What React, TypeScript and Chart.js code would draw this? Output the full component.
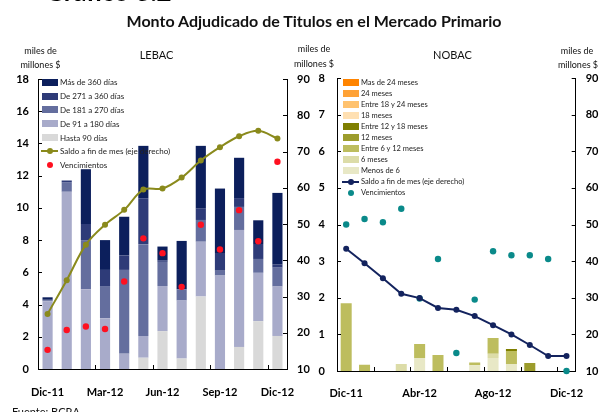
import React, { useEffect, useRef } from 'react';
import { Chart, registerables } from 'chart.js';
Chart.register(...registerables);

const FONT = 'Lato, "DejaVu Sans", sans-serif';
Chart.defaults.font.family = FONT;

// ---------- DATA ----------
const categories = ['Dic-11', 'Ene-12', 'Feb-12', 'Mar-12', 'Abr-12', 'May-12', 'Jun-12', 'Jul-12', 'Ago-12', 'Sep-12', 'Oct-12', 'Nov-12', 'Dic-12'];

// LEBAC (miles de millones $)
const lebacHasta90 = [0, 0, 0, 0, 0, 0.7, 2.35, 0.65, 4.5, 0, 1.37, 2.97, 2.05];
const lebac91a180 = [4.2, 11.0, 4.95, 3.15, 0.95, 1.35, 2.8, 3.6, 3.4, 5.8, 7.26, 3.0, 3.07];
const lebac181a270 = [0.05, 0.6, 3.05, 2.0, 5.2, 5.7, 1.5, 0.7, 1.35, 0.3, 1.43, 0.86, 1.17];
const lebac271a360 = [0.05, 0.1, 1.0, 1.0, 0.9, 2.85, 0.1, 0, 0.7, 1.1, 0.55, 0.93, 0.19];
const lebacMas360 = [0.15, 0, 3.4, 1.85, 2.4, 3.25, 0.85, 3.0, 3.9, 4.0, 2.5, 1.47, 4.45];
const lebacSaldo = [25.2, 34.5, 44.3, 49.8, 53.9, 59.5, 59.8, 62.8, 67.5, 71.2, 74.2, 75.7, 73.6];
const lebacVenc = [1.19, 2.42, 2.64, 2.48, 5.43, 8.11, 7.19, 5.1, 8.95, 7.42, 9.86, 7.93, 12.86];

// NOBAC (miles de millones $)
const nobacMenos6 = [0, 0, 0, 0, 0.355, 0, 0, 0.16, 0.355, 0.19, 0, 0, 0];
const nobac6m = [0, 0, 0, 0.19, 0, 0, 0, 0, 0.115, 0, 0, 0, 0];
const nobac6a12 = [1.85, 0.17, 0, 0, 0.385, 0.44, 0, 0.07, 0.43, 0.355, 0, 0, 0];
const nobac12m = [0, 0, 0, 0, 0, 0, 0, 0, 0, 0, 0.22, 0, 0];
const nobac12a18 = [0, 0, 0, 0, 0, 0, 0, 0, 0, 0.055, 0, 0, 0];
const nobac18m = [0, 0, 0, 0, 0, 0, 0, 0, 0, 0, 0, 0, 0];
const nobac18a24 = [0, 0, 0, 0, 0, 0, 0, 0, 0, 0, 0, 0, 0];
const nobac24m = [0, 0, 0, 0, 0, 0, 0, 0, 0, 0, 0, 0, 0];
const nobacMas24 = [0, 0, 0, 0, 0, 0, 0, 0, 0, 0, 0, 0, 0];
const nobacSaldo = [43.4, 39.4, 35.3, 31.1, 29.9, 27.2, 26.7, 25.0, 22.5, 20.0, 17.1, 14.1, 14.1];
const nobacVenc = [4.0, 4.15, 4.06, 4.43, 1.98, 3.06, 0.49, 1.95, 3.27, 3.16, 3.16, 3.06, 0];

// ---------- STYLES ----------
const lebacBars = [
  { label: 'Hasta 90 días', data: lebacHasta90, color: '#D9D9D9' },
  { label: 'De 91 a 180 días', data: lebac91a180, color: '#A8ABCA' },
  { label: 'De 181 a 270 días', data: lebac181a270, color: '#646E9E' },
  { label: 'De 271 a 360 días', data: lebac271a360, color: '#2E3B78' },
  { label: 'Más de 360 días', data: lebacMas360, color: '#0C1F5C' },
];
const LEBAC_LINE = { label: 'Saldo a fin de mes (eje derecho)', color: '#8A8A1C' };
const LEBAC_DOTS = { label: 'Vencimientos', color: '#FF1020' };

const nobacBars = [
  { label: 'Menos de 6', data: nobacMenos6, color: '#E8E8C6' },
  { label: '6 meses', data: nobac6m, color: '#DCDCA8' },
  { label: 'Entre 6 y 12 meses', data: nobac6a12, color: '#BDBD5E' },
  { label: '12 meses', data: nobac12m, color: '#9C9C2C' },
  { label: 'Entre 12 y 18 meses', data: nobac12a18, color: '#7F7F00' },
  { label: '18 meses', data: nobac18m, color: '#FFE0B2' },
  { label: 'Entre 18 y 24 meses', data: nobac18a24, color: '#FFC26E' },
  { label: '24 meses', data: nobac24m, color: '#FFA236' },
  { label: 'Mas de 24 meses', data: nobacMas24, color: '#FF8400' },
];
const NOBAC_LINE = { label: 'Saldo a fin de mes  (eje derecho)', color: '#13235E' };
const NOBAC_DOTS = { label: 'Vencimientos', color: '#0A8A8A' };

const inwardTicks = {
  id: 'inwardTicks',
  afterDraw(chart: any, _args: any, opts: any) {
    const ctx = chart.ctx;
    const { left, right, bottom } = chart.chartArea;
    ctx.save();
    ctx.strokeStyle = '#000';
    ctx.lineWidth = 1;
    ctx.beginPath();
    const ys = chart.scales.y;
    const y1 = chart.scales.y1;
    ys.ticks.forEach((t: any) => {
      const p = Math.round(ys.getPixelForValue(t.value)) + 0.5;
      ctx.moveTo(left, p);
      ctx.lineTo(left + 4, p);
    });
    y1.ticks.forEach((t: any) => {
      const p = Math.round(y1.getPixelForValue(t.value)) + 0.5;
      ctx.moveTo(right, p);
      ctx.lineTo(right - 4, p);
    });
    const xs = chart.scales.x;
    (opts.after || []).forEach((i: number) => {
      const p = Math.round((xs.getPixelForValue(i) + xs.getPixelForValue(i + 1)) / 2) + 0.5;
      ctx.moveTo(p, bottom);
      ctx.lineTo(p, bottom - 4);
    });
    ctx.stroke();
    ctx.restore();
  },
};

function makeConfig(p: any) {
  const tickFont = { family: FONT, size: 11, weight: 'bold' as const };
  const noGrid = { display: false, drawTicks: false };
  return {
    type: 'bar' as const,
    data: {
      labels: categories,
      datasets: [
        {
          type: 'line' as const,
          label: p.line.label,
          data: p.saldo,
          yAxisID: 'y1',
          borderColor: p.line.color,
          backgroundColor: p.line.color,
          pointBackgroundColor: p.line.color,
          pointBorderWidth: 0,
          pointRadius: 3,
          borderWidth: 2,
          tension: p.tension,
          order: 0,
          clip: false,
        },
        {
          type: 'line' as const,
          label: p.dots.label,
          data: p.venc,
          yAxisID: 'y',
          showLine: false,
          pointBackgroundColor: p.dots.color,
          backgroundColor: p.dots.color,
          borderColor: p.dots.color,
          pointBorderWidth: 0,
          pointRadius: 3.2,
          order: 0,
          clip: false,
        },
        ...p.bars.map((b: any) => ({
          type: 'bar' as const,
          label: b.label,
          data: b.data,
          backgroundColor: b.color,
          borderWidth: 0,
          yAxisID: 'y',
          stack: 's',
          categoryPercentage: 1,
          barPercentage: p.barPct,
          order: 1,
        })),
      ],
    },
    options: {
      animation: false as const,
      responsive: false,
      devicePixelRatio: 1,
      layout: { padding: p.padding },
      plugins: {
        legend: { display: false },
        tooltip: { enabled: false },
        inwardTicks: { after: p.xTicksAfter },
      },
      scales: {
        x: {
          stacked: true,
          grid: noGrid,
          border: { display: true, color: '#000', width: 1 },
          ticks: {
            autoSkip: false,
            maxRotation: 0,
            color: '#000',
            font: tickFont,
            padding: p.xPad,
            callback: (_v: any, i: number) => (i % p.labelEvery === 0 ? categories[i] : ''),
          },
          afterFit: (s: any) => { s.height = p.xHeight; },
        },
        y: {
          position: 'left' as const,
          stacked: true,
          min: p.yMin,
          max: p.yMax,
          grid: noGrid,
          border: { display: true, color: '#000', width: 1 },
          ticks: { stepSize: p.yStep, color: '#000', font: tickFont, padding: p.yPad },
          afterFit: (s: any) => { s.width = p.yWidth; },
        },
        y1: {
          position: 'right' as const,
          min: 10,
          max: 90,
          grid: noGrid,
          border: { display: true, color: '#000', width: 1 },
          ticks: { stepSize: 10, color: '#000', font: tickFont, padding: p.y1Pad },
          afterFit: (s: any) => { s.width = p.y1Width; },
        },
      },
    },
    plugins: [inwardTicks],
  };
}

const T = (props: { x: number; y: number; size: number; bold?: boolean; align?: 'center' | 'left'; children: any }) => (
  <div
    style={{
      position: 'absolute',
      left: props.x,
      top: props.y,
      fontSize: props.size,
      fontWeight: props.bold ? 700 : 400,
      lineHeight: 1,
      whiteSpace: 'nowrap',
      color: '#111',
      transform: props.align === 'left' ? 'translate(0,-50%)' : 'translate(-50%,-50%)',
    }}
  >
    {props.children}
  </div>
);

function Legend(props: { x: number; y: number; step: number; size: number; bars: any[]; line: any; dots: any }) {
  const items: any[] = [];
  const rev = [...props.bars].reverse();
  rev.forEach((b) => items.push({ kind: 'box', label: b.label, color: b.color }));
  items.push({ kind: 'line', label: props.line.label, color: props.line.color });
  items.push({ kind: 'dot', label: props.dots.label, color: props.dots.color });
  return (
    <>
      {items.map((it, i) => {
        const cy = props.y + i * props.step;
        return (
          <React.Fragment key={i}>
            {it.kind === 'box' && (
              <div style={{ position: 'absolute', left: props.x, top: cy - 3.5, width: 16, height: 7, background: it.color }} />
            )}
            {it.kind === 'line' && (
              <>
                <div style={{ position: 'absolute', left: props.x - 1, top: cy - 1, width: 17, height: 2, background: it.color }} />
                <div style={{ position: 'absolute', left: props.x + 4.5, top: cy - 3, width: 6, height: 6, borderRadius: 3, background: it.color }} />
              </>
            )}
            {it.kind === 'dot' && (
              <div style={{ position: 'absolute', left: props.x + 4.5, top: cy - 3, width: 6, height: 6, borderRadius: 3, background: it.color }} />
            )}
            <div
              style={{
                position: 'absolute',
                left: props.x + 18,
                top: cy,
                fontSize: props.size,
                lineHeight: 1,
                whiteSpace: 'nowrap',
                color: '#222',
                transform: 'translate(0,-50%)',
              }}
            >
              {it.label}
            </div>
          </React.Fragment>
        );
      })}
    </>
  );
}

export default function App() {
  const r1 = useRef<HTMLCanvasElement>(null);
  const r2 = useRef<HTMLCanvasElement>(null);

  useEffect(() => {
    const c1 = new Chart(
      r1.current as HTMLCanvasElement,
      makeConfig({
        bars: lebacBars,
        line: LEBAC_LINE,
        dots: LEBAC_DOTS,
        saldo: lebacSaldo,
        venc: lebacVenc,
        tension: 0.35,
        barPct: 0.53,
        padding: { left: 0, right: 283, top: 79, bottom: 0 },
        xTicksAfter: [2, 5, 8, 11],
        labelEvery: 3,
        xHeight: 43,
        xPad: 17,
        yMin: 0,
        yMax: 18,
        yStep: 2,
        yPad: 9,
        yWidth: 38,
        y1Pad: 10,
        y1Width: 30,
      }) as any
    );
    const c2 = new Chart(
      r2.current as HTMLCanvasElement,
      makeConfig({
        bars: nobacBars,
        line: NOBAC_LINE,
        dots: NOBAC_DOTS,
        saldo: nobacSaldo,
        venc: nobacVenc,
        tension: 0,
        barPct: 0.6,
        padding: { left: 317, right: 0, top: 78, bottom: 0 },
        xTicksAfter: [1, 3, 5, 7, 9, 11],
        labelEvery: 4,
        xHeight: 41,
        xPad: 16,
        yMin: 0,
        yMax: 8,
        yStep: 1,
        yPad: 12,
        yWidth: 20,
        y1Pad: 10,
        y1Width: 23,
      }) as any
    );
    return () => {
      c1.destroy();
      c2.destroy();
    };
  }, []);

  return (
    <div
      style={{
        position: 'absolute',
        left: 0,
        top: 0,
        width: 600,
        height: 412,
        overflow: 'hidden',
        background: '#fff',
        fontFamily: FONT,
      }}
    >
      <canvas ref={r1} width={600} height={412} style={{ position: 'absolute', left: 0, top: 0 }} />
      <canvas ref={r2} width={600} height={412} style={{ position: 'absolute', left: 0, top: 0 }} />

      <div style={{ position: 'absolute', left: 45, top: -22, fontSize: 26, fontWeight: 700, lineHeight: 1, whiteSpace: 'nowrap' }}>
        Gráfico 3.2
      </div>
      <T x={314} y={21} size={16} bold>Monto Adjudicado de Titulos en el Mercado Primario</T>

      <T x={40.5} y={50} size={9}>miles de</T>
      <T x={40.5} y={63.5} size={9}>millones $</T>
      <T x={156.5} y={54} size={11}>LEBAC</T>

      <T x={314} y={48} size={9}>miles de</T>
      <T x={314} y={63} size={9}>millones $</T>
      <T x={452.5} y={54} size={11}>NOBAC</T>

      <T x={577} y={50} size={9}>miles de</T>
      <T x={578} y={64} size={9}>millones $</T>

      <T x={12} y={411} size={11} align="left">Fuente: BCRA</T>

      <Legend x={42} y={82.3} step={13.83} size={8} bars={lebacBars} line={LEBAC_LINE} dots={LEBAC_DOTS} />
      <Legend x={343} y={82.7} step={11} size={7.5} bars={nobacBars} line={NOBAC_LINE} dots={NOBAC_DOTS} />
    </div>
  );
}
